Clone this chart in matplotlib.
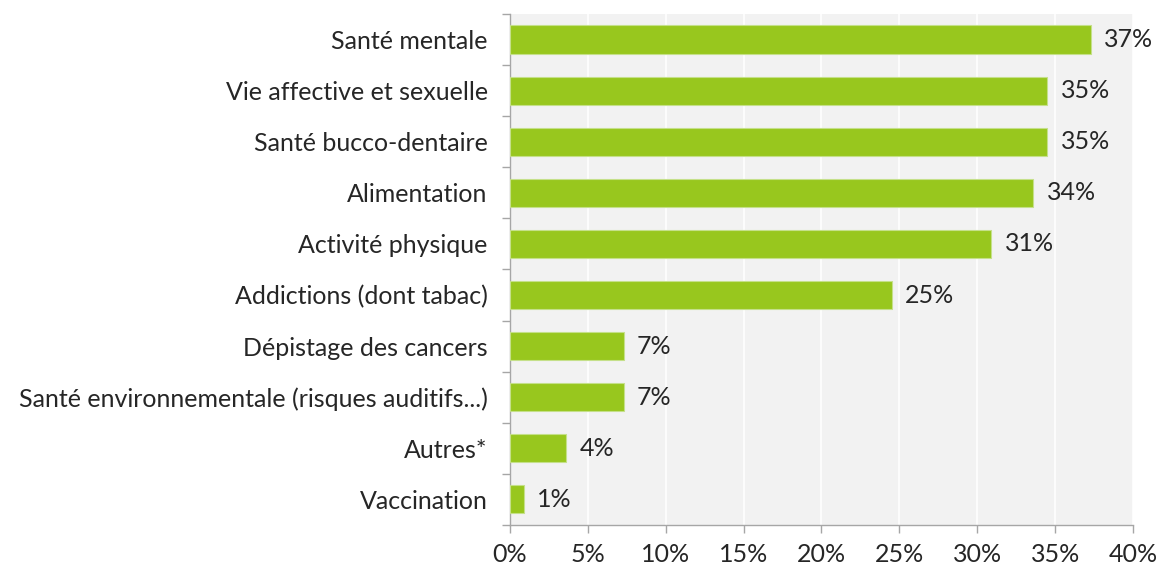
import matplotlib
matplotlib.use("Agg")
import matplotlib.pyplot as plt
import numpy as np
from matplotlib.ticker import FixedLocator

categories = ["Santé mentale", "Vie affective et sexuelle", "Santé bucco-dentaire",
              "Alimentation", "Activité physique", "Addictions (dont tabac)",
              "Dépistage des cancers", "Santé environnementale (risques auditifs...)",
              "Autres*", "Vaccination"]
values = [37.3, 34.5, 34.5, 33.6, 30.9, 24.5, 7.3, 7.3, 3.6, 0.9]
value_labels = ["37%", "35%", "35%", "34%", "31%", "25%", "7%", "7%", "4%", "1%"]
xticks = [0, 5, 10, 15, 20, 25, 30, 35, 40]
xtick_labels = ["0%", "5%", "10%", "15%", "20%", "25%", "30%", "35%", "40%"]

plt.rcParams['font.family'] = ['Lato', 'DejaVu Sans']
FS = 18
TXT = "#262626"

fig = plt.figure(figsize=(11.58, 5.71), dpi=100)
ax = fig.add_axes([0.4404, 0.0806, 0.5380, 0.8949])
ax.set_facecolor("#F2F2F2")

y = np.arange(len(categories))
ax.barh(y, values, height=0.55, color="#98C71E", edgecolor="#C5E08A", linewidth=0.8, zorder=3)
for yi, v, lab in zip(y, values, value_labels):
    ax.text(v + 0.85, yi, lab, va="center", ha="left", fontsize=FS, color=TXT)

ax.set_xlim(0, 40)
ax.set_ylim(len(categories) - 0.5, -0.5)
ax.set_xticks(xticks)
ax.set_xticklabels(xtick_labels, fontsize=FS, color=TXT)
ax.set_yticks(y)
ax.set_yticklabels(categories, fontsize=FS, color=TXT)
ax.tick_params(axis="y", length=0, pad=16)
ax.yaxis.set_minor_locator(FixedLocator(np.arange(-0.5, len(categories) + 0.5, 1)))
ax.tick_params(axis="y", which="minor", length=6, color="#A6A6A6", width=1)
ax.tick_params(axis="x", length=6, color="#A6A6A6", width=1, pad=7)

ax.grid(axis="x", color="white", linewidth=1.2, zorder=0)
ax.set_axisbelow(True)
for s in ["top", "right"]:
    ax.spines[s].set_visible(False)
for s in ["left", "bottom"]:
    ax.spines[s].set_color("#A6A6A6")
    ax.spines[s].set_linewidth(1)

fig.savefig("out.png", dpi=100)
